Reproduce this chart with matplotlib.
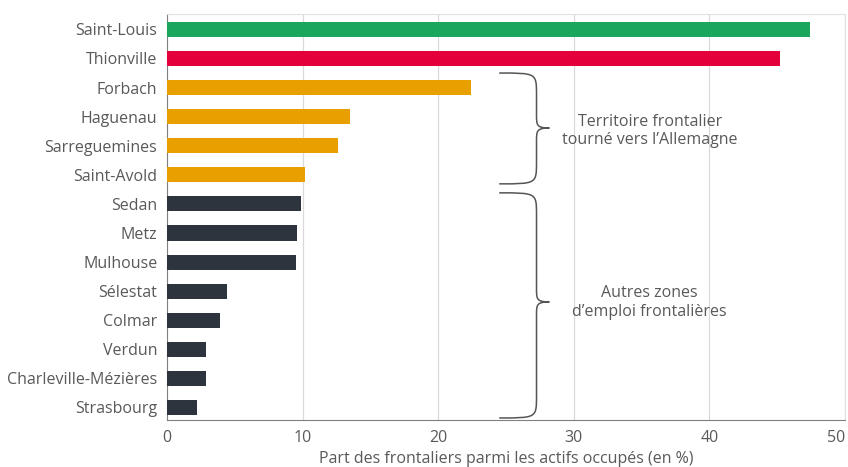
import matplotlib.pyplot as plt
from matplotlib.path import Path
from matplotlib.patches import PathPatch

plt.rcParams['font.family'] = ['Open Sans', 'DejaVu Sans']

# Part des frontaliers parmi les actifs occupes (en %)
zones = ['Saint-Louis', 'Thionville', 'Forbach', 'Haguenau', 'Sarreguemines',
         'Saint-Avold', 'Sedan', 'Metz', 'Mulhouse', 'Sélestat', 'Colmar',
         'Verdun', 'Charleville-Mézières', 'Strasbourg']
parts = [47.4, 45.2, 22.4, 13.5, 12.6, 10.2, 9.9, 9.6, 9.5, 4.4, 3.9, 2.9, 2.9, 2.2]
groupes = ['vert', 'rouge', 'all', 'all', 'all', 'all',
           'autre', 'autre', 'autre', 'autre', 'autre', 'autre', 'autre', 'autre']

couleurs = {'vert': '#1BA65D', 'rouge': '#E4003A', 'all': '#E8A000', 'autre': '#2D343E'}
gris = '#595959'

fig = plt.figure(figsize=(8.48, 4.67), dpi=100)
ax = fig.add_axes([167/848, 47/467, 678/848, 406/467])

pos = list(range(len(zones)))
ax.barh(pos, parts, height=0.52, color=[couleurs[g] for g in groupes], zorder=3)
ax.set_yticks(pos)
ax.set_yticklabels(zones)
ax.set_ylim(13.43, -0.53)
ax.set_xlim(0, 50)
ax.set_xticks([0, 10, 20, 30, 40, 50])
ax.grid(axis='x', color='#D9D9D9', linewidth=0.9, zorder=0)
ax.tick_params(axis='both', length=0, labelsize=11.5, labelcolor=gris, pad=7)
ax.get_xticklabels()[-1].set_horizontalalignment('right')  # "50" reste dans l'image
ax.set_xlabel('Part des frontaliers parmi les actifs occupés (en %)', fontsize=11.5,
              color=gris, labelpad=4)
for s in ['left', 'bottom']:
    ax.spines[s].set_color('#808080')
for s in ['top', 'right']:
    ax.spines[s].set_color('#E0E0E0')


def accolade(ax, y0, y1, ym, x0=24.5, x1=27.25, xt=28.2):
    r = 0.75
    r2 = 0.45
    verts = [(x0, y0),
             (x1, y0), (x1, y0), (x1, y0 + r),
             (x1, ym - r2),
             (x1, ym - 0.1), (x1, ym), (xt, ym),
             (x1, ym), (x1, ym + 0.1), (x1, ym + r2),
             (x1, y1 - r),
             (x1, y1), (x1, y1), (x0, y1)]
    codes = [Path.MOVETO,
             Path.CURVE4, Path.CURVE4, Path.CURVE4,
             Path.LINETO,
             Path.CURVE4, Path.CURVE4, Path.CURVE4,
             Path.CURVE4, Path.CURVE4, Path.CURVE4,
             Path.LINETO,
             Path.CURVE4, Path.CURVE4, Path.CURVE4]
    ax.add_patch(PathPatch(Path(verts, codes), fill=False, edgecolor='#555555',
                           linewidth=1.1, zorder=4, clip_on=False))


accolade(ax, 1.50, 5.31, 3.39)
accolade(ax, 5.62, 13.36, 9.37)
ax.text(35.6, 3.5, 'Territoire frontalier\ntourné vers l\u2019Allemagne', ha='center', va='center',
        fontsize=11.5, color=gris, linespacing=1.2, zorder=5)
ax.text(35.6, 9.39, 'Autres zones\nd\u2019emploi frontalières', ha='center', va='center',
        fontsize=11.5, color=gris, linespacing=1.2, zorder=5)

fig.savefig('out.png', dpi=100)
